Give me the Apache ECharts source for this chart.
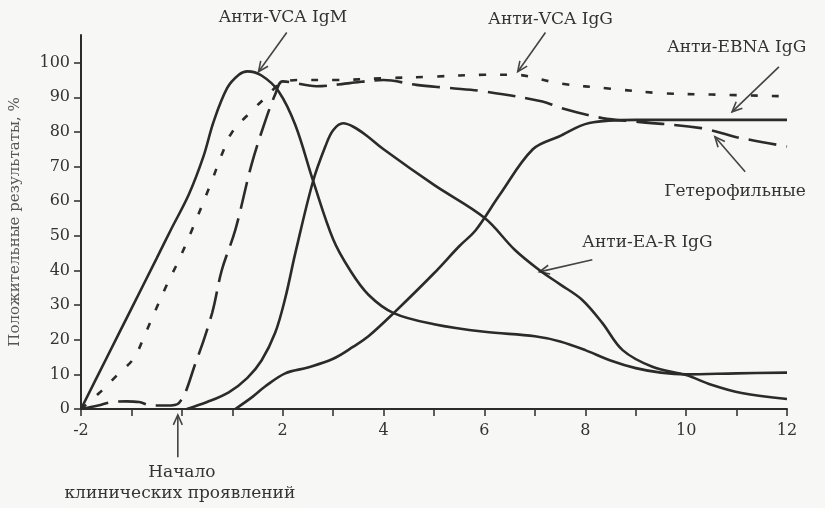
<!DOCTYPE html>
<html><head><meta charset="utf-8">
<script src="https://cdn.jsdelivr.net/npm/echarts@6/dist/echarts.min.js"></script>
<style>html,body{margin:0;padding:0;background:#f7f7f5}#c{width:825px;height:508px}</style>
</head><body><div id="c"></div>
<script>
// ---- data (x: weeks/months from onset, y: % positive) ----
const xTickLabels = [-2, 2, 4, 6, 8, 10, 12];
const yTickLabels = [0, 10, 20, 30, 40, 50, 60, 70, 80, 90, 100];

const vcaIgM = [[-2,0],[-1.5,14.5],[-1,29],[-0.5,43.5],[-0.22,51.7],[0.14,62],[0.43,73],[0.63,83],[0.9,92.7],[1.13,96.5],[1.3,97.5],[1.58,96.3],[1.92,91.7],[2.25,82],[2.6,66],[3.0,49],[3.33,40.2],[3.7,33],[4.2,27.7],[5.0,24.5],[6.0,22.3],[7.0,21],[7.5,19.5],[8.0,17],[8.5,14],[9.0,11.8],[9.5,10.5],[10,10],[11,10.3],[12,10.5]];
const eaRIgG = [[0.1,0],[0.5,2],[0.93,4.8],[1.3,9],[1.58,14],[1.85,22],[2.05,32],[2.25,45],[2.6,65.7],[2.85,76],[3.0,80.5],[3.2,82.5],[3.4,81.5],[3.66,79],[4.0,75],[5.0,64.7],[6.0,55.2],[6.6,46],[7.1,40],[7.5,36],[7.94,31.5],[8.34,24.8],[8.74,17],[9.33,12.2],[10,9.8],[10.5,7],[11.1,4.6],[12,2.9]];
const ebnaIgG = [[1.06,0],[1.4,3.5],[1.65,6.5],[2.05,10.3],[2.5,12],[3.0,14.5],[3.4,18],[3.7,21],[4.2,27.7],[5.0,39.2],[5.5,47],[5.83,51.7],[6.3,61.8],[6.96,75],[7.48,78.7],[8.08,82.6],[9.0,83.5],[10,83.5],[11,83.5],[12,83.5]];
const vcaIgG = [[-2,0],[-1.64,4.6],[-1.25,10.3],[-0.95,14.7],[-0.72,21.9],[-0.52,28.6],[-0.3,35.8],[-0.06,43],[0.2,51.7],[0.59,65.7],[0.79,73.4],[0.99,79.8],[1.38,86],[1.72,90.8],[1.95,94],[2.3,95],[3,95],[4,95.5],[5,96],[6,96.5],[6.6,96.5],[7.5,94],[8.5,92.5],[9.5,91.2],[10.5,90.8],[12,90.3]];
const heterophile = [[-2,0],[-1.66,1],[-1.4,2],[-1.1,2.2],[-0.85,2],[-0.6,1],[-0.3,1],[-0.06,1.7],[0.27,13.2],[0.6,27.7],[0.79,40],[1.06,51.7],[1.38,70.5],[1.65,83],[1.85,90.8],[2.0,94.6],[2.67,93.2],[3.33,94.1],[4.0,95],[4.65,93.6],[5.3,92.7],[6.0,91.7],[7.15,88.8],[7.5,87],[8.34,84],[9,83],[10.3,81.1],[11,78.5],[12,75.8]];

const yAxisTitle = 'Положительные результаты, %';
// annotations in data units: label centre, arrow tail, arrow head
const notes = [
  {text:'Анти-VCA IgM', at:[2.0,113], from:[2.08,108.7], to:[1.52,97.4]},
  {text:'Анти-VCA IgG', at:[7.31,112.4], from:[7.21,108.7], to:[6.66,97.4]},
  {text:'Анти-EBNA IgG', at:[11.0,104.3], from:[11.84,98.8], to:[10.91,85.8]},
  {text:'Гетерофильные', at:[10.97,62.7], from:[11.17,68.5], to:[10.57,78.6]},
  {text:'Анти-EA-R IgG', at:[9.23,48], from:[8.14,43.1], to:[7.09,39.6]},
  {text:'Начало', at:[0,-18.5], from:[-0.08,-13.9], to:[-0.08,-1.7]},
  {text:'клинических проявлений', at:[-0.04,-24.5]}
];

const INK = '#2b2b2b';
const FONT = 'DejaVu Serif';
const chart = echarts.init(document.getElementById('c'), null, {renderer:'canvas'});
function line(data, type) {
  return {
    type:'line', data, smooth:0.35, symbol:'none', clip:false,
    lineStyle:{color:INK, width:2.6, type},
  };
}
chart.setOption({
  backgroundColor:'#f7f7f5',
  animation:false,
  grid:{left:78, right:38, top:35, bottom:99},
  xAxis:{
    type:'value', min:-2, max:12, interval:1,
    axisLine:{onZero:false, lineStyle:{color:INK, width:2}},
    axisTick:{length:7, lineStyle:{color:INK, width:1.5}},
    axisLabel:{customValues:xTickLabels, color:'#333', fontFamily:FONT, fontSize:16, margin:14,
      formatter:v => String(v)},
    splitLine:{show:false}
  },
  yAxis:{
    type:'value', min:0, max:108, interval:10,
    name:yAxisTitle, nameLocation:'middle', nameGap:58, nameRotate:90,
    nameTextStyle:{color:'#555', fontFamily:FONT, fontSize:15},
    axisLine:{show:true, onZero:false, lineStyle:{color:INK, width:2}},
    axisTick:{show:true, length:7, customValues:yTickLabels, lineStyle:{color:INK, width:1.5}},
    axisLabel:{customValues:yTickLabels, color:'#333', fontFamily:FONT, fontSize:16, margin:11},
    splitLine:{show:false}
  },
  series:[
    line(vcaIgM, 'solid'),
    line(eaRIgG, 'solid'),
    line(ebnaIgG, 'solid'),
    line(vcaIgG, [7,14]),
    line(heterophile, [28,10])
  ]
});

const g = [];
notes.forEach(n => {
  const p = chart.convertToPixel({gridIndex:0}, n.at);
  g.push({type:'text', x:p[0], y:p[1], style:{text:n.text, fill:'#333', font:'17px "DejaVu Serif"', align:'center', verticalAlign:'middle'}});
  if (n.from) {
    const a = chart.convertToPixel({gridIndex:0}, n.from);
    const b = chart.convertToPixel({gridIndex:0}, n.to);
    const ang = Math.atan2(b[1]-a[1], b[0]-a[0]);
    const L = 11, w = 0.42;
    const h1 = [b[0]-L*Math.cos(ang-w), b[1]-L*Math.sin(ang-w)];
    const h2 = [b[0]-L*Math.cos(ang+w), b[1]-L*Math.sin(ang+w)];
    g.push({type:'line', shape:{x1:a[0],y1:a[1],x2:b[0],y2:b[1]}, style:{stroke:'#444', lineWidth:1.6}});
    g.push({type:'polyline', shape:{points:[h1,b,h2]}, style:{stroke:'#444', lineWidth:1.6, fill:null}});
  }
});
chart.setOption({graphic:g});
</script>
</body></html>
